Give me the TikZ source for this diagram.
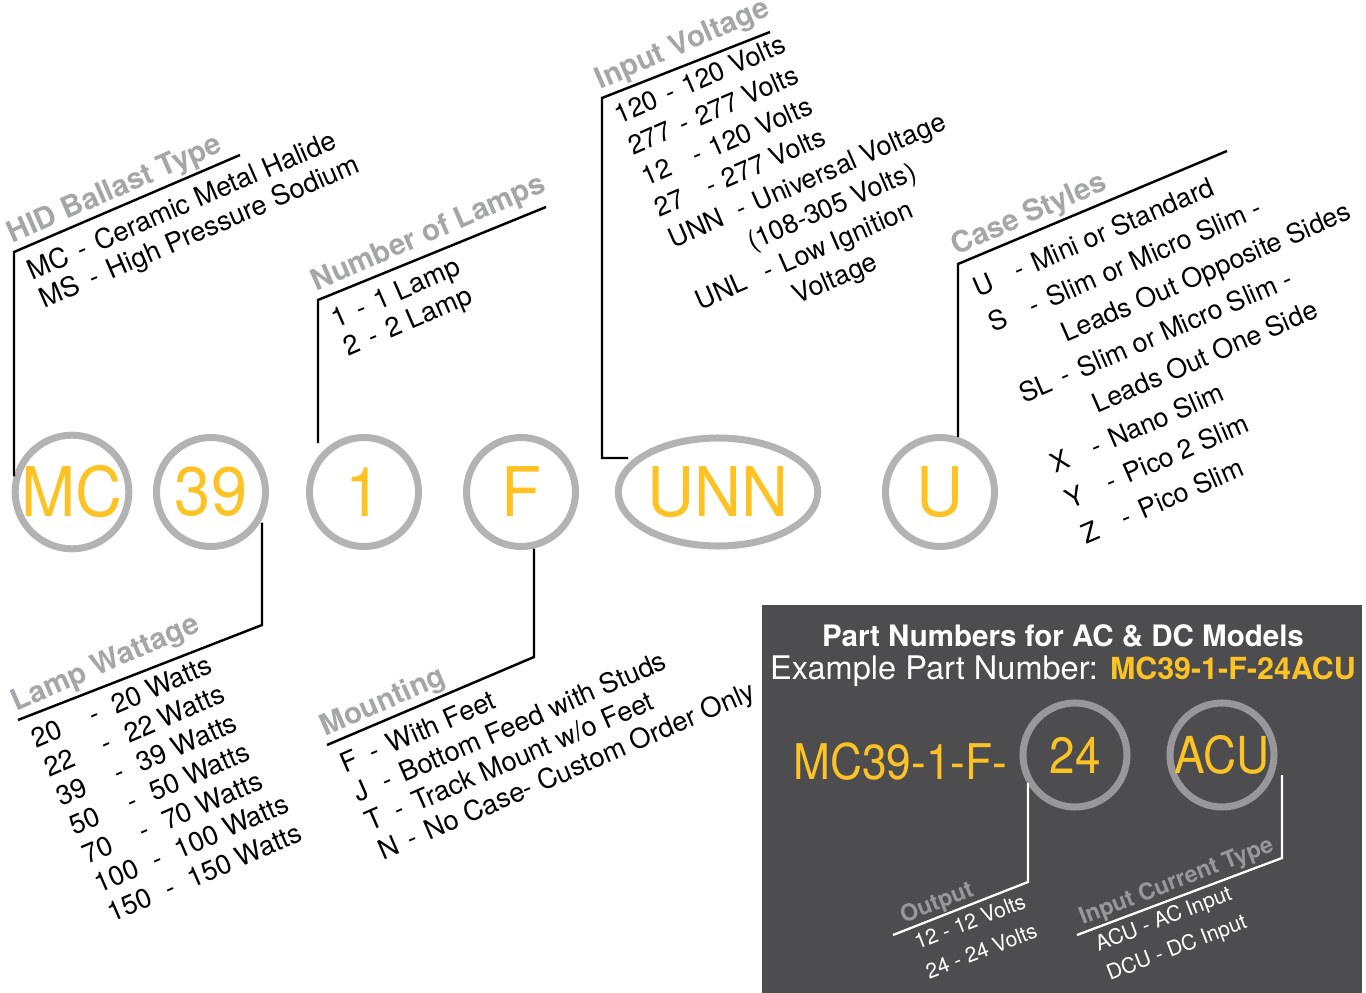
\documentclass[tikz,border=0pt]{standalone}
\usepackage{fontspec}
\setmainfont{TeX Gyre Heros}
\newfontfamily\codefont[FakeStretch=0.95]{TeX Gyre Heros}
\newfontfamily\pcodefont[FakeStretch=0.9]{TeX Gyre Heros}
\usepackage{tikz}
\usetikzlibrary{positioning,shapes.geometric}
\definecolor{ringgray}{HTML}{B3B3B3}
\definecolor{codeyel}{HTML}{FDC325}
\definecolor{headgray}{HTML}{A5A6A8}
\definecolor{panel}{HTML}{4D4D4F}
\definecolor{panelring}{HTML}{98989A}
\tikzset{
  ring/.style={circle,draw=ringgray,line width=4pt,minimum size=2.18cm,inner sep=0pt,
               text=codeyel,font=\codefont\fontsize{39}{39}\selectfont},
  pring/.style={circle,draw=panelring,line width=4pt,minimum size=2.08cm,inner sep=0pt,
                text=codeyel,font=\pcodefont\fontsize{29}{29}\selectfont},
  leader/.style={draw=black,line width=1.4pt},
  wleader/.style={draw=white,line width=1.3pt},
  head/.style={rotate=23.5,anchor=south west,inner sep=1pt,text=headgray,
               font=\bfseries\fontsize{16.8}{18}\selectfont},
  items/.style={rotate=23.5,anchor=north west,inner xsep=3pt,inner ysep=6.5pt,align=left,
                font=\fontsize{15.5}{17.6}\selectfont},
  phead/.style={rotate=21.2,anchor=south west,inner xsep=8pt,inner ysep=1pt,text=panelring,
                font=\bfseries\fontsize{13.2}{15}\selectfont},
  pitems/.style={rotate=21.2,anchor=north west,inner xsep=10pt,inner ysep=4pt,text=white,align=left,
                 font=\fontsize{12}{18}\selectfont}
}
\newcommand{\codelist}[2][.4em]{\begin{tabular}{@{}l@{\hspace{#1}}l@{\hspace{#1}}l@{}}#2\end{tabular}}
\newcommand{\vrow}[3]{\makebox[#1][l]{#2}-\hspace{.35em}#3}

\begin{document}
\begin{tikzpicture}
  \useasboundingbox (0,0) rectangle (27.32,-19.86);

  % code rings
  \node[ring] (mc) at (1.44,-9.84) {MC};
  \node[ring] (watt) at (4.22,-9.84) {39};
  \node[ring] (lamps) at (7.28,-9.84) {1};
  \node[ring] (mount) at (10.42,-9.84) {F};
  \node[ring,ellipse,minimum width=3.46cm,minimum height=2.16cm] (volt) at (14.36,-9.84) {UNN};
  \node[ring] (case) at (18.80,-9.84) {U};

  % leader corners and ends
  \coordinate (hidc) at (0.28,-5.04);
  \coordinate (hide) at (4.80,-3.10);
  \coordinate (wattc) at (5.24,-12.50);
  \coordinate (watte) at (0.36,-14.40);
  \coordinate (lampb) at (6.36,-8.86);
  \coordinate (lampc) at (6.36,-6.00);
  \coordinate (lampe) at (10.92,-4.14);
  \coordinate (mountc) at (10.68,-13.14);
  \coordinate (mounte) at (6.54,-14.90);
  \coordinate (voltf) at (12.56,-9.16);
  \coordinate (voltc) at (12.04,-1.96);
  \coordinate (volte) at (15.40,-0.64);
  \coordinate (casec) at (19.16,-5.28);
  \coordinate (casee) at (24.54,-3.02);

  \draw[leader] (hidc |- mc.165) -- (hidc) -- (hide);
  \draw[leader] (wattc |- watt.-32) -- (wattc) -- (watte);
  \draw[leader] (lampb) -- (lampc) -- (lampe);
  \draw[leader] (mountc |- mount.-77) -- (mountc) -- (mounte);
  \draw[leader] (voltf) -| (voltc) -- (volte);
  \draw[leader] (casec |- case.72) -- (casec) -- (casee);

  % headings and lists
  \node[head] (hidh) at (hidc) {HID Ballast Type};
  \node[items] (hidl) at (hidc) {\codelist{MC & - & Ceramic Metal Halide\\ MS & - & High Pressure Sodium}};
  \node[head] (lamph) at (lampc) {Number of Lamps};
  \node[items] (lampl) at (lampc) {\codelist{1 & - & 1 Lamp\\ 2 & - & 2 Lamp}};
  \node[head] (volth) at (voltc) {Input Voltage};
  \node[items,font=\fontsize{15.2}{19.2}\selectfont] (voltl) at (voltc)
    {\vrow{2.05em}{120}{120 Volts}\\ \vrow{2.05em}{277}{277 Volts}\\
     \vrow{2.05em}{12}{120 Volts}\\ \vrow{2.05em}{27}{277 Volts}\\
     \vrow{2.75em}{UNN}{Universal Voltage}\\ \hspace{2.66em}(108-305 Volts)\\
     \vrow{2.75em}{UNL}{Low Ignition}\\ \hspace{3.43em}Voltage};
  \node[head] (caseh) at (casec) {Case Styles};
  \node[items,font=\fontsize{15.2}{21.9}\selectfont] (casel) at (casec) {\codelist{U & - & Mini or Standard\\
    S & - & Slim or Micro Slim -\\ & & Leads Out Opposite Sides\\
    SL & - & Slim or Micro Slim -\\ & & Leads Out One Side\\
    X & - & Nano Slim\\ Y & - & Pico 2 Slim\\ Z & - & Pico Slim}};
  \node[head] (watth) at (watte) {Lamp Wattage};
  \node[items,font=\fontsize{15.5}{18}\selectfont] (wattl) at (watte) {\codelist[.6em]{20 & - & 20 Watts\\ 22 & - & 22 Watts\\
    39 & - & 39 Watts\\ 50 & - & 50 Watts\\ 70 & - & 70 Watts\\
    100 & - & 100 Watts\\ 150 & - & 150 Watts}};
  \node[head] (mounth) at (mounte) {Mounting};
  \node[items,font=\fontsize{15.5}{18}\selectfont] (mountl) at (mounte) {\codelist{F & - & With Feet\\
    J & - & Bottom Feed with Studs\\ T & - & Track Mount w/o Feet\\
    N & - & No Case- Custom Order Only}};

  % AC/DC panel
  \fill[panel] (15.24,-12.10) rectangle (27.24,-19.86);
  \node[text=white,font=\bfseries\fontsize{16.8}{18}\selectfont] (ptitle) at (21.26,-12.72)
    {Part Numbers for AC \& DC Models};
  \node[text=white,font=\fontsize{18.5}{20}\selectfont] (pexample) at (21.26,-13.42)
    {Example Part Number: \textcolor{codeyel}{\bfseries\fontsize{17.3}{20}\selectfont MC39-1-F-24ACU}};
  \node[anchor=west,inner sep=0pt,text=codeyel,font=\pcodefont\fontsize{28}{28}\selectfont]
    (pbase) at (15.86,-15.24) {MC39-1-F-};
  \node[pring] (out) at (21.50,-15.10) {24};
  \node[pring] (cur) at (24.44,-15.10) {ACU};

  \coordinate (outc) at (20.56,-17.64);
  \coordinate (oute) at (17.86,-18.70);
  \coordinate (curb) at (25.64,-15.50);
  \coordinate (curc) at (25.64,-17.16);
  \coordinate (cure) at (21.54,-18.70);
  \draw[wleader] (outc |- out.-150) -- (outc) -- (oute);
  \draw[wleader] (curb) -- (curc) -- (cure);

  \node[phead] (outh) at (oute) {Output};
  \node[pitems] (outl) at (oute) {12 - 12 Volts\\ 24 - 24 Volts};
  \node[phead,inner xsep=5pt] (curh) at (cure) {Input Current Type};
  \node[pitems,inner xsep=8pt] (curl) at (cure) {ACU - AC Input\\ DCU - DC Input};
\end{tikzpicture}
\end{document}
